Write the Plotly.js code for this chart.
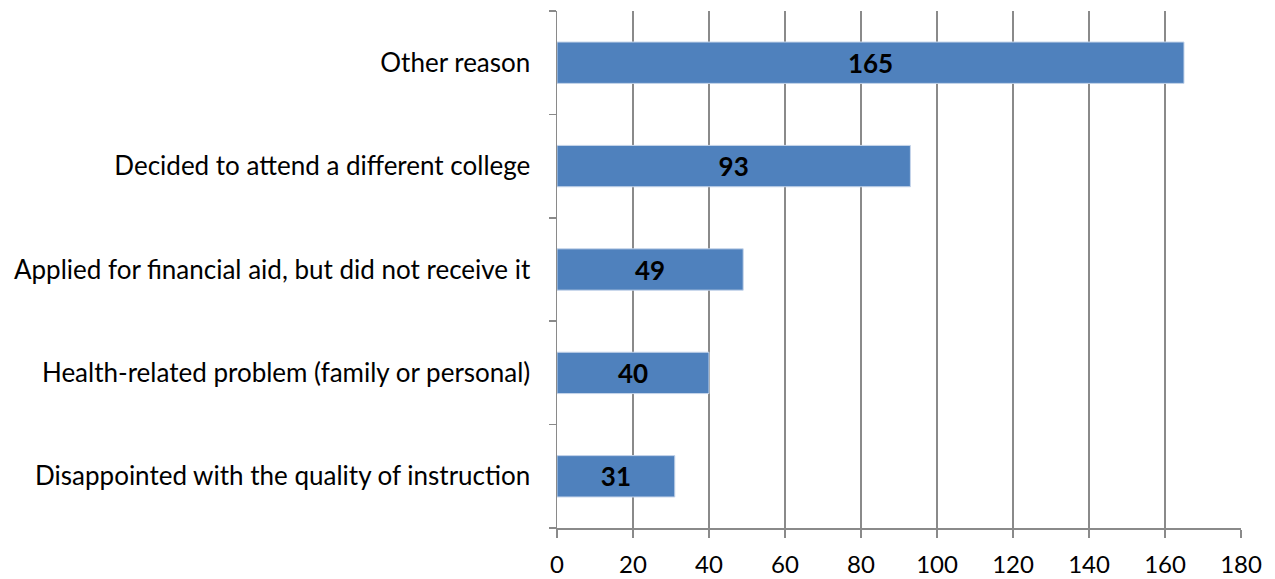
<!DOCTYPE html>
<html>
<head>
<meta charset="utf-8">
<script src="https://cdn.plot.ly/plotly-3.0.1.min.js"></script>
<style>html,body{margin:0;padding:0;background:#fff;}#chart{width:1275px;height:579px;}</style>
</head>
<body>
<div id="chart"></div>
<script>
const categories = [
  "Disappointed with the quality of instruction",
  "Health-related problem (family or personal)",
  "Applied for financial aid, but did not receive it",
  "Decided to attend a different college",
  "Other reason"
];
const counts = [31, 40, 49, 93, 165];
const xTicks = [0, 20, 40, 60, 80, 100, 120, 140, 160, 180];

const FONT = "Lato, 'Open Sans', sans-serif";
const GRAY = "#8a8a8a";

const trace = {
  type: "bar",
  orientation: "h",
  y: categories,
  x: counts,
  text: counts.map(String),
  textposition: "inside",
  insidetextanchor: "middle",
  constraintext: "none",
  textfont: {family: FONT, size: 26, color: "#000", weight: "bold"},
  marker: {color: "#4F81BD", line: {color: "#c6d5ea", width: 1}},
  hoverinfo: "none"
};

const layout = {
  width: 1275, height: 579,
  margin: {l: 557, r: 34, t: 11, b: 51, pad: 0},
  paper_bgcolor: "#fff", plot_bgcolor: "#fff",
  showlegend: false,
  bargap: 0.6,
  font: {family: FONT, size: 24, color: "#000"},
  xaxis: {
    range: [0, 180],
    tickvals: xTicks,
    ticktext: xTicks.map(String),
    showgrid: true, gridcolor: GRAY, gridwidth: 1.5,
    zeroline: false,
    showline: true, linecolor: GRAY, linewidth: 1.5,
    ticks: "outside", ticklen: 8, tickcolor: GRAY, tickwidth: 1.5,
    ticklabelstandoff: 7,
    tickfont: {family: FONT, size: 24, color: "#000"},
    fixedrange: true
  },
  yaxis: {
    type: "category",
    showgrid: false,
    zeroline: false,
    showline: true, linecolor: GRAY, linewidth: 1.5,
    ticks: "outside", tickson: "boundaries", ticklen: 7, tickcolor: GRAY, tickwidth: 1.5,
    ticklabelstandoff: 20,
    tickfont: {family: FONT, size: 26, color: "#000"},
    fixedrange: true
  }
};

Plotly.newPlot("chart", [trace], layout, {displayModeBar: false, staticPlot: true});
</script>
</body>
</html>
